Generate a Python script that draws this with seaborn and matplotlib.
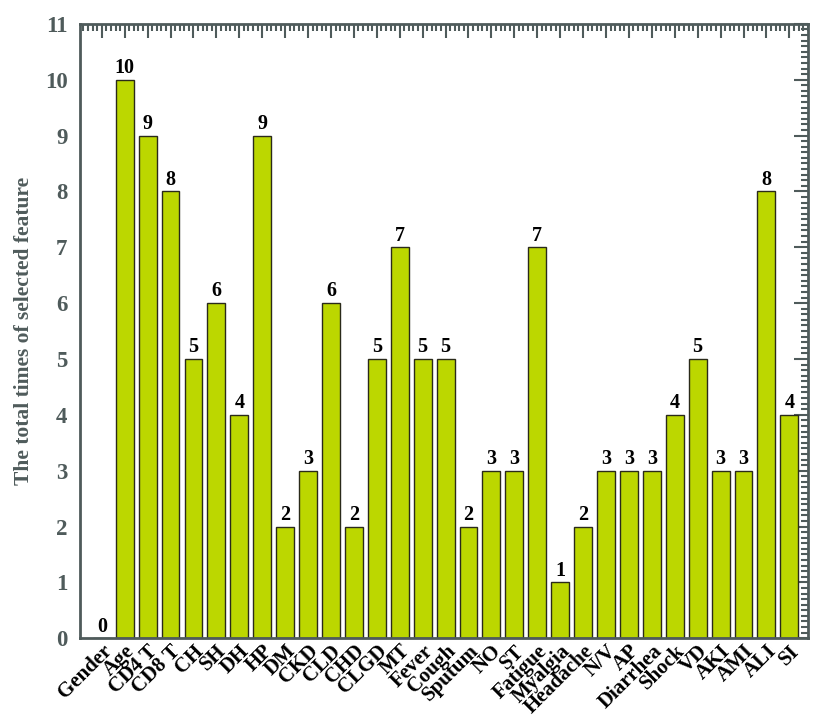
import numpy as np
import pandas as pd
import matplotlib
matplotlib.use("Agg")
import matplotlib.pyplot as plt
import seaborn as sns
from matplotlib.ticker import MultipleLocator

features = ["Gender", "Age", "CD4 T", "CD8 T", "CH", "SH", "DH", "HP", "DM", "CKD",
            "CLD", "CHD", "CLGD", "MT", "Fever", "Cough", "Sputum", "NO", "ST",
            "Fatigue", "Myalgia", "Headache", "N/V", "AP", "Diarrhea", "Shock",
            "VD", "AKI", "AMI", "ALI", "SI"]
counts = [0, 10, 9, 8, 5, 6, 4, 9, 2, 3, 6, 2, 5, 7, 5, 5, 2, 3, 3, 7, 1, 2,
          3, 3, 3, 4, 5, 3, 3, 8, 4]

df = pd.DataFrame({"feature": features, "count": counts})

sns.set_style("white")
plt.rcParams["font.family"] = ["Liberation Serif", "DejaVu Serif"]
plt.rcParams["font.weight"] = "bold"

axis_grey = "#4f5b5b"

fig = plt.figure(figsize=(8.25, 7.22), dpi=100)
ax = fig.add_axes([0.097, 0.116, 0.882, 0.851])

sns.barplot(data=df, x="feature", y="count", color="#bcd700", saturation=1,
            width=0.78, edgecolor="#2a2a1a", linewidth=1.0, ax=ax)

# value labels on top of bars
for i, v in enumerate(counts):
    ax.text(i, v + 0.03, str(v), ha="center", va="bottom",
            fontsize=14.5, fontweight="bold", color="black")

ax.set_ylim(0, 11)
ax.set_xlim(-0.95, 30.8)
ax.yaxis.set_major_locator(MultipleLocator(1))
ax.yaxis.set_minor_locator(MultipleLocator(0.1))
ax.xaxis.set_minor_locator(MultipleLocator(0.2))

ax.tick_params(axis="both", which="both", direction="in", color=axis_grey,
               top=True, right=True, width=1.5)
ax.tick_params(axis="y", which="major", length=10, labelsize=16.5,
               labelcolor=axis_grey, pad=9)
ax.tick_params(axis="y", which="minor", length=5)
ax.tick_params(axis="x", which="major", length=10, labelsize=15, pad=2)
ax.tick_params(axis="x", which="minor", length=5)

ax.set_xticks(range(len(features)))
ax.set_xticklabels(features, rotation=45, ha="right", rotation_mode="anchor",
                   fontweight="bold", color="black")
for lab in ax.get_yticklabels():
    lab.set_fontweight("bold")

for side in ax.spines.values():
    side.set_color(axis_grey)
    side.set_linewidth(2)

ax.set_xlabel("")
ax.set_ylabel("The total times of selected feature", fontsize=15.5,
              fontweight="bold", color=axis_grey, labelpad=8)

fig.savefig("out.png", dpi=100)
